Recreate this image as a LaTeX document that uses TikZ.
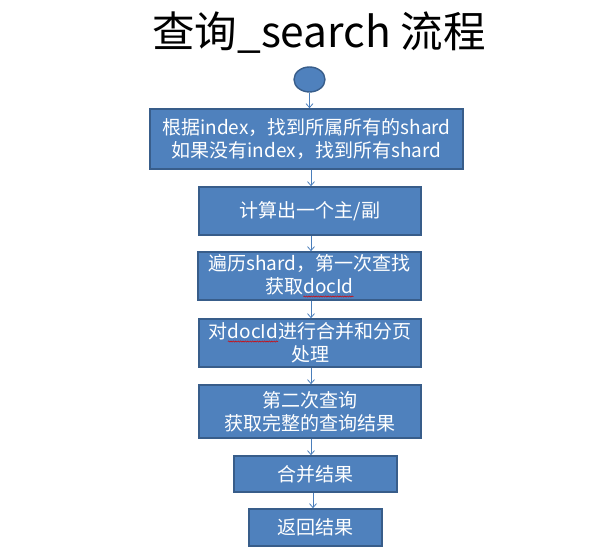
\documentclass[tikz,border=0pt]{standalone}
\usepackage{fontspec}
\setmainfont{Noto Sans CJK SC}
\usetikzlibrary{arrows.meta,shapes.geometric,decorations.pathmorphing}
\definecolor{boxfill}{HTML}{4F81BD}
\definecolor{boxline}{HTML}{385D8A}
\definecolor{arrline}{HTML}{4A7EBB}
\newcommand\redwave[1]{\tikz[baseline=(w.base)]{\node[draw=none,fill=none,minimum width=0pt,minimum height=0pt,inner sep=0pt,outer sep=0pt,text=white,font=\fontsize{19}{23}\selectfont] (w) {#1};
  \draw[red!85!black,line width=0.5pt,decorate,decoration={snake,amplitude=0.6pt,segment length=2.4pt}] ([yshift=-2.8pt]w.base west) -- ([yshift=-2.8pt]w.base east);}}
\tikzset{
  stepbox/.style={draw=boxline, line width=1.6pt, fill=boxfill, text=white, align=center,
    inner sep=0pt, font=\fontsize{19}{23}\selectfont},
  arr/.style={draw=arrline, line width=0.8pt, -{Straight Barb[length=4pt,width=7pt]}}
}
\begin{document}
\begin{tikzpicture}[x=1pt,y=-1pt]
\useasboundingbox (0,0) rectangle (606,553);
\node (title) at (319,33) {\fontsize{42.5}{46}\selectfont 查询\_search 流程};
\node[draw=boxline, line width=1.4pt, fill=boxfill, ellipse, minimum width=31pt, minimum height=25pt, inner sep=0pt] (start) at (309.5,79.5) {};
\node[stepbox, minimum width=313pt, minimum height=60pt] (b1) at (306.5,139) {根据index，找到所属所有的shard\\如果没有index，找到所有shard};
\node[stepbox, minimum width=222pt, minimum height=48pt] (b2) at (310,211) {计算出一个主/副};
\node[stepbox, minimum width=223pt, minimum height=48pt] (b3) at (309.5,276) {遍历shard，第一次查找\\获取\redwave{docId}};
\node[stepbox, minimum width=222pt, minimum height=48pt] (b4) at (310,343) {对\redwave{docId}进行合并和分页\\处理};
\node[stepbox, minimum width=222pt, minimum height=53pt] (b5) at (310,411.5) {第二次查询\\获取完整的查询结果};
\node[stepbox, minimum width=163pt, minimum height=36pt] (b6) at (315.5,474) {合并结果};
\node[stepbox, minimum width=133pt, minimum height=37pt] (b7) at (315.5,527.5) {返回结果};
\coordinate (ax) at (311,0);
\coordinate (ay) at (313,0);
\draw[arr] (start.south) -- (b1.north -| start.south);
\draw[arr] (b1.south -| ax) -- (b2.north -| ax);
\draw[arr] (b2.south -| ax) -- (b3.north -| ax);
\draw[arr] (b3.south -| ax) -- (b4.north -| ax);
\draw[arr] (b4.south -| ax) -- (b5.north -| ax);
\draw[arr] (b5.south -| ax) -- (b6.north -| ax);
\draw[arr] (b6.south -| ay) -- (b7.north -| ay);
\end{tikzpicture}
\end{document}
